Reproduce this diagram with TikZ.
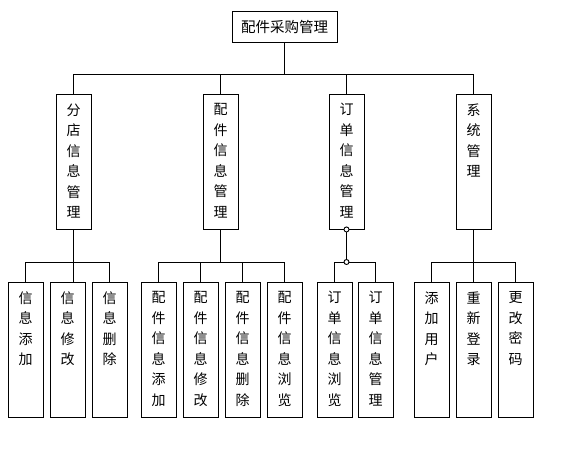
\documentclass[tikz,border=0pt]{standalone}
\usepackage{fontspec}
\setmainfont{Noto Sans CJK SC}
\newcommand{\vchars}[1]{\parbox[c][135pt][t]{35pt}{\centering\vspace*{9.5pt}#1}}

\begin{document}
\begin{tikzpicture}[x=1pt,y=-1pt,
  box/.style={draw,line width=0.9pt,inner sep=0pt,font=\fontsize{14pt}{20.5pt}\selectfont},
  head/.style={draw,line width=0.9pt,minimum width=105pt,minimum height=31pt,inner sep=0pt,font=\fontsize{14.5pt}{16pt}\selectfont},
  link/.style={line width=0.9pt}]
  \useasboundingbox (0,0) rectangle (564,466);

  % root
  \node[head] (top) at (284.5,26.5) {配件采购管理};

  % second level
  \node[box] (A) at (73.5,161.5) {\vchars{分\\店\\信\\息\\管\\理}};
  \node[box] (B) at (220.5,161.5) {\vchars{配\\件\\信\\息\\管\\理}};
  \node[box] (C) at (346.5,161.5) {\vchars{订\\单\\信\\息\\管\\理}};
  \node[box] (D) at (473.5,161.5) {\vchars{系\\统\\管\\理}};

  % third level
  \node[box] (A1) at (25.5,349.5) {\vchars{信\\息\\添\\加}};
  \node[box] (A2) at (67.5,349.5) {\vchars{信\\息\\修\\改}};
  \node[box] (A3) at (109.5,349.5) {\vchars{信\\息\\删\\除}};
  \node[box] (B1) at (158.5,349.5) {\vchars{配\\件\\信\\息\\添\\加}};
  \node[box] (B2) at (200.5,349.5) {\vchars{配\\件\\信\\息\\修\\改}};
  \node[box] (B3) at (242.5,349.5) {\vchars{配\\件\\信\\息\\删\\除}};
  \node[box] (B4) at (284.5,349.5) {\vchars{配\\件\\信\\息\\浏\\览}};
  \node[box] (C1) at (334.5,349.5) {\vchars{订\\单\\信\\息\\浏\\览}};
  \node[box] (C2) at (375.5,349.5) {\vchars{订\\单\\信\\息\\管\\理}};
  \node[box] (D1) at (431.5,349.5) {\vchars{添\\加\\用\\户}};
  \node[box] (D2) at (473.5,349.5) {\vchars{重\\新\\登\\录}};
  \node[box] (D3) at (515.5,349.5) {\vchars{更\\改\\密\\码}};

  % bus lines
  \coordinate (bus) at (0,74);
  \coordinate (sub) at (0,262);

  % root to second level
  \draw[link] (top.south) -- (top.south |- bus);
  \draw[link] (A.north) |- (D.north |- bus) -- (D.north);
  \draw[link] (B.north) -- (B.north |- bus);
  \draw[link] (C.north) -- (C.north |- bus);

  % second to third level
  \draw[link] (A.south) -- (A.south |- A2.north);
  \draw[link] (A1.north) |- (A3.north |- sub) -- (A3.north);
  \draw[link] (B.south) -- (B.south |- sub);
  \draw[link] (B1.north) |- (B4.north |- sub) -- (B4.north);
  \draw[link] (B2.north) -- (B2.north |- sub);
  \draw[link] (B3.north) -- (B3.north |- sub);
  \draw[link] (C.south) -- (C.south |- sub);
  \draw[link] (C1.north) |- (C2.north |- sub) -- (C2.north);
  \draw[link] (D.south) -- (D.south |- D2.north);
  \draw[link] (D1.north) |- (D3.north |- sub) -- (D3.north);
  \draw[link, fill=white] (C.south) circle [radius=2.5pt];
  \draw[link, fill=white] (C.south |- sub) circle [radius=2.5pt];
\end{tikzpicture}
\end{document}
